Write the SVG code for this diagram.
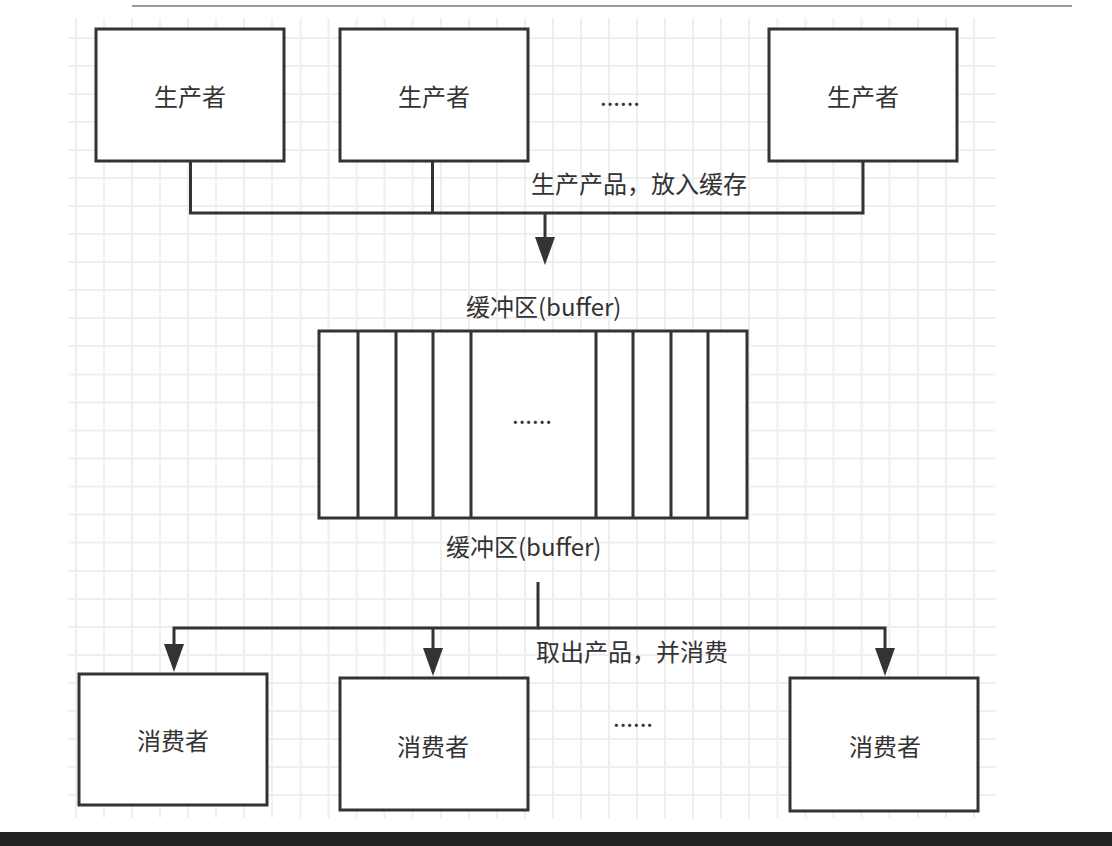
<svg xmlns="http://www.w3.org/2000/svg" width="1112" height="846" viewBox="0 0 1112 846">
<style>
.box{fill:#fff;stroke:#333;stroke-width:3}
.ln{fill:none;stroke:#333;stroke-width:3}
.grid{fill:none;stroke:#efefef;stroke-width:2}
text{font-family:"Noto Sans CJK SC","Noto Sans",sans-serif;fill:#333}
.lbl{font-size:24px;text-anchor:middle;dominant-baseline:central}
.note{font-size:24px;dominant-baseline:central}
.dots{font-size:24px;text-anchor:middle}
</style>
<defs>
<marker id="arr" viewBox="0 0 28 20" refX="0" refY="10" markerWidth="28" markerHeight="20" markerUnits="userSpaceOnUse" orient="auto">
<path d="M0,0 L28,10 L0,20 z" fill="#333"/>
</marker>
</defs>
<rect width="1112" height="846" fill="#fff"/>
<line x1="132" y1="6" x2="1072" y2="6" stroke="#7a7a7a" stroke-width="1.5"/>
<g id="grid">
<path class="grid" d="M76 18V818M104 18V818M132 18V818M160 18V818M188 18V818M216 18V818M244 18V818M272 18V818M300.5 18V818M328.5 18V818M356.5 18V818M384.5 18V818M412.5 18V818M441 18V818M469 18V818M497 18V818M525 18V818M553 18V818M581 18V818M609 18V818M637 18V818M665 18V818M693 18V818M721 18V818M749 18V818M777.5 18V818M805.5 18V818M833.5 18V818M861.5 18V818M889.5 18V818M918 18V818M946 18V818M974 18V818"/>
<path class="grid" d="M68 38H996M68 66H996M68 94H996M68 122H996M68 150H996M68 178H996M68 206H996M68 234H996M68 262H996M68 290H996M68 318H996M68 346H996M68 374.5H996M68 402.5H996M68 430.5H996M68 458.5H996M68 486.5H996M68 514.5H996M68 542.5H996M68 571H996M68 599H996M68 627H996M68 655H996M68 683H996M68 711H996M68 739H996M68 767H996M68 795H996"/>
</g>
<g id="connectors">
<path class="ln" d="M190.5 161V213H863V161"/>
<path class="ln" d="M432.5 161V213"/>
<path class="ln" d="M545 213V237" marker-end="url(#arr)"/>
<path class="ln" d="M538 582V628H174V644" marker-end="url(#arr)"/>
<path class="ln" d="M433 628V648" marker-end="url(#arr)"/>
<path class="ln" d="M538 628H885V648" marker-end="url(#arr)"/>
<text class="note" x="531" y="182">生产产品，放入缓存</text>
<text class="note" x="536" y="650">取出产品，并消费</text>
</g>
<g id="producer1"><rect class="box" x="96" y="29" width="188" height="132"/><text class="lbl" x="190" y="95">生产者</text></g>
<g id="producer2"><rect class="box" x="340" y="29" width="188" height="132"/><text class="lbl" x="434" y="95">生产者</text></g>
<g id="producer-more"><text class="dots" x="620" y="106">......</text></g>
<g id="producer3"><rect class="box" x="769" y="29" width="188" height="132"/><text class="lbl" x="863" y="95">生产者</text></g>
<g id="buffer-label-top"><text class="note" x="466" y="305">缓冲区(buffer)</text></g>
<g id="buffer">
<rect class="box" x="319" y="331" width="428" height="187"/>
<path class="ln" d="M358 331V518M396 331V518M433 331V518M471 331V518M596 331V518M633 331V518M671 331V518M708 331V518"/>
<text class="dots" x="532" y="424">......</text>
</g>
<g id="buffer-label-bottom"><text class="note" x="446" y="545">缓冲区(buffer)</text></g>
<g id="consumer1"><rect class="box" x="79" y="674" width="188" height="131"/><text class="lbl" x="173" y="739">消费者</text></g>
<g id="consumer2"><rect class="box" x="340" y="678" width="188" height="132"/><text class="lbl" x="433" y="745">消费者</text></g>
<g id="consumer-more"><text class="dots" x="633" y="727">......</text></g>
<g id="consumer3"><rect class="box" x="790" y="678" width="188" height="133"/><text class="lbl" x="885" y="745">消费者</text></g>
<rect x="0" y="832" width="1112" height="14" fill="#232323"/>
</svg>
